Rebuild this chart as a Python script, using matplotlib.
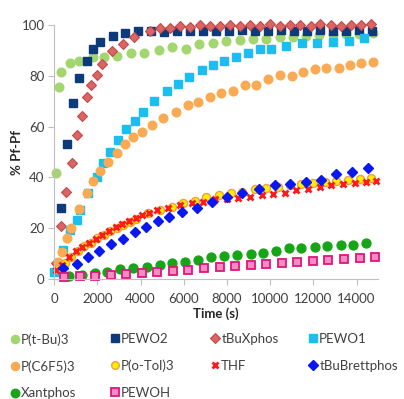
import matplotlib
matplotlib.use("Agg")
import matplotlib.pyplot as plt

plt.rcParams['font.family'] = ['Lato', 'DejaVu Sans']

# ---------------- data ----------------
t_ptbu3 = [92, 245, 323, 739, 1170, 1785, 2310, 2925, 3557, 4170, 4835, 5465, 6083, 6700,
           7360, 7975, 8590, 9205, 9820, 10435, 11050, 11665, 12280, 12895, 13510, 14125, 14740]
y_ptbu3 = [41.6, 75.6, 81.4, 84.9, 85.8, 87.3, 87.5, 87.8, 89.2, 89.2, 90.2, 91.3, 90.5, 92.4,
           93.0, 93.8, 94.1, 94.4, 94.6, 95.2, 95.5, 95.8, 96.0, 96.3, 96.5, 96.6, 96.8]

t_pewo2 = [310, 586, 893, 1170, 1510, 1787, 2125, 2710, 3280, 3895, 4500, 5100, 5700, 6300,
           6880, 7500, 8100, 8700, 9300, 9900, 10500, 11100, 11700, 12300, 12900, 13500, 14100, 14720]
y_pewo2 = [28.1, 53.1, 69.2, 79.3, 86.0, 90.4, 93.4, 95.7, 97.0, 97.6, 97.5, 97.3, 97.8, 97.5,
           97.8, 97.5, 97.8, 98.0, 97.6, 97.8, 98.0, 97.6, 97.8, 98.0, 97.6, 97.8, 98.0, 97.8]

t_tbuxphos = [92, 308, 555, 815, 1048, 1278, 1510, 1710, 1970, 2218, 2665, 3200, 3700, 4435,
              4900, 5360, 5820, 6280, 6745, 7210, 7680, 8150, 8610, 9080, 9540, 10010, 10470,
              10940, 11400, 11870, 12330, 12800, 13260, 13730, 14190, 14650]
y_tbuxphos = [6.2, 20.9, 34.1, 45.8, 56.7, 64.2, 71.5, 76.4, 80.3, 84.5, 89.8, 92.4, 95.4, 97.8,
              98.7, 98.9, 99.6, 99.4, 100.0, 99.6, 99.8, 100.2, 99.5, 100.0, 99.8, 100.3,
              99.7, 100.0, 100.2, 99.8, 100.3, 100.0, 99.8, 100.2, 100.0, 100.3]

t_pewo1 = [14, 430, 740, 1050, 1200, 1585, 1970, 2280, 2590, 2970, 3326, 3740, 4125, 4634,
           5206, 5743, 6250, 6823, 7360, 7854, 8408, 8977, 9517, 10057, 10750, 11490, 12183,
           12905, 13643, 14368]
y_pewo1 = [2.9, 11.4, 19.3, 23.2, 27.2, 33.7, 40.3, 45.5, 50.1, 54.7, 58.9, 62.3, 65.6, 70.2,
           74.1, 77.0, 79.4, 82.3, 84.3, 85.8, 87.5, 88.9, 90.4, 90.4, 91.7, 92.8, 93.0,
           93.4, 93.8, 94.8]

t_pc6f5 = [185, 355, 586, 770, 1170, 1510, 1817, 2125, 2510, 2895, 3280, 3665, 4050, 4510,
           5050, 5636, 6175, 6670, 7207, 7745, 8283, 8824, 9364, 9905, 10440, 11028, 11517,
           12058, 12598, 13183, 13706, 14215, 14750]
y_pc6f5 = [6.8, 10.7, 16.0, 20.0, 27.4, 33.7, 38.7, 42.6, 46.2, 49.5, 53.1, 56.0, 58.0, 60.6,
           63.5, 65.9, 68.5, 69.8, 71.8, 73.1, 74.1, 76.4, 76.4, 78.6, 80.3, 79.9, 81.6,
           82.6, 83.0, 83.0, 84.3, 84.9, 85.6]

t_potol3 = [200, 500, 800, 1100, 1400, 1700, 2000, 2300, 2600, 2900, 3200, 3500, 3800, 4358,
            4897, 5437, 5976, 6514, 7053, 7637, 8180, 8720, 9286, 9825, 10360, 10900, 11440,
            11980, 12520, 13060, 13600, 14137, 14677]
y_potol3 = [4.0, 6.2, 8.7, 10.8, 12.8, 14.3, 16.0, 17.3, 18.8, 20.0, 21.3, 22.6, 23.8, 25.9,
            27.2, 28.5, 29.8, 30.8, 32.4, 33.1, 33.8, 34.4, 35.3, 35.9, 36.3, 36.9, 37.3,
            37.6, 38.0, 38.4, 39.0, 39.2, 39.6]

t_thf = [100, 370, 680, 990, 1300, 1610, 1920, 2230, 2540, 2850, 3160, 3470, 3780, 4090, 4400,
         4740, 5280, 5820, 6360, 6900, 7440, 7980, 8520, 9060, 9600, 10140, 10680, 11220,
         11760, 12300, 12840, 13380, 13920, 14460, 14910]
y_thf = [3.5, 5.5, 8.5, 10.8, 12.5, 14.3, 15.8, 17.4, 18.9, 20.3, 21.5, 22.9, 24.0, 25.0, 26.0,
         27.0, 28.0, 29.0, 30.0, 30.5, 31.3, 31.6, 31.8, 32.3, 33.0, 33.6, 34.0, 35.0,
         35.4, 36.3, 37.0, 37.3, 37.9, 38.3, 38.4]

t_tbubrett = [430, 1048, 1586, 2094, 2633, 3172, 3742, 4250, 4790, 5329, 5898, 6591, 7330,
              8006, 8718, 9486, 10210, 10903, 11642, 12367, 13060, 13800, 14520]
y_tbubrett = [4.2, 5.9, 8.8, 11.1, 13.7, 15.7, 18.6, 20.6, 22.8, 24.5, 26.3, 28.1, 30.4,
              32.2, 34.0, 35.3, 37.0, 37.4, 38.3, 39.0, 41.2, 42.0, 43.7]

t_xantphos = [700, 1278, 1894, 2433, 3050, 3665, 4280, 4897, 5437, 6050, 6670, 7254, 7870,
              8485, 9100, 9670, 10256, 10870, 11440, 12058, 12645, 13260, 13830, 14450]
y_xantphos = [1.0, 1.6, 2.5, 2.9, 3.8, 4.2, 4.8, 5.5, 6.2, 6.8, 7.5, 8.5, 9.1,
              9.4, 9.7, 10.4, 11.0, 12.1, 12.1, 12.7, 13.0, 13.3, 13.5, 14.0]

t_pewoh = [460, 1180, 1900, 2620, 3340, 4060, 4780, 5500, 6220, 6940, 7660, 8380, 9100, 9820,
           10540, 11260, 11980, 12700, 13420, 14140, 14860]
y_pewoh = [0.7, 1.0, 1.3, 1.6, 2.0, 2.3, 2.7, 3.1, 3.5, 4.2, 4.7, 5.2, 5.5, 5.9,
           6.4, 6.7, 7.1, 7.5, 8.0, 8.3, 8.5]

x_ticks = [0, 2000, 4000, 6000, 8000, 10000, 12000, 14000]
y_ticks = [0, 20, 40, 60, 80, 100]

# ---------------- styles ----------------
series = [
    ("P(t-Bu)3", t_ptbu3, y_ptbu3, dict(marker='o', ms=6.2, mfc='#A3D66E', mec='#A3D66E')),
    ("PEWO2", t_pewo2, y_pewo2, dict(marker='s', ms=5.6, mfc='#0C3A7A', mec='#0C3A7A')),
    ("tBuXphos", t_tbuxphos, y_tbuxphos, dict(marker='D', ms=5.0, mfc='#DB6464', mec='#C04B4B', mew=0.8)),
    ("PEWO1", t_pewo1, y_pewo1, dict(marker='s', ms=5.8, mfc='#1BBFEF', mec='#1BBFEF')),
    ("P(C6F5)3", t_pc6f5, y_pc6f5, dict(marker='o', ms=6.2, mfc='#F9AA52', mec='#F9AA52')),
    ("P(o-Tol)3", t_potol3, y_potol3, dict(marker='o', ms=5.8, mfc='#FFEE00', mec='#F0A040', mew=1.0)),
    ("THF", t_thf, y_thf, dict(marker='x', ms=5.0, mec='#FF1A1A', mew=2.0)),
    ("tBuBrettphos", t_tbubrett, y_tbubrett, dict(marker='D', ms=5.2, mfc='#0A18F0', mec='#0A18F0')),
    ("Xantphos", t_xantphos, y_xantphos, dict(marker='o', ms=6.4, mfc='#16A516', mec='#16A516')),
    ("PEWOH", t_pewoh, y_pewoh, dict(marker='s', ms=5.4, mfc='#F78CC3', mec='#E0157E', mew=1.3)),
]

fig = plt.figure(figsize=(4.04, 3.99), dpi=100)
ax = fig.add_axes([0.134, 0.301, 0.802, 0.636])

handles = {}
for name, t, y, st in series:
    h, = ax.plot(t, y, linestyle='none', label=name, clip_on=False, **st)
    handles[name] = h

ax.set_xlim(0, 15000)
ax.set_ylim(0, 100)
ax.set_xticks(x_ticks)
ax.set_yticks(y_ticks)
ax.tick_params(axis='both', labelsize=9.5, colors='#404040', length=4, width=0.8)
ax.tick_params(axis='x', pad=6)
ax.tick_params(axis='y', pad=3)
ax.tick_params(axis='both', color='#BFBFBF')
for s in ['top', 'right']:
    ax.spines[s].set_visible(False)
for s in ['left', 'bottom']:
    ax.spines[s].set_color('#BFBFBF')
    ax.spines[s].set_linewidth(0.8)

ax.set_xlabel("Time (s)", fontsize=9.5, fontweight='bold', color='#262626', labelpad=2)
ax.set_ylabel("% Pf-Pf", fontsize=9.5, fontweight='bold', color='#262626', labelpad=-1)

# legend: four columns placed at fixed positions, rows as in the reference
columns = [["P(t-Bu)3", "P(C6F5)3", "Xantphos"],
           ["PEWO2", "P(o-Tol)3", "PEWOH"],
           ["tBuXphos", "THF"],
           ["PEWO1", "tBuBrettphos"]]
col_x = [10, 110, 210, 308]
for cx, names in zip(col_x, columns):
    leg = fig.legend([handles[n] for n in names], names,
                     loc='upper left', bbox_to_anchor=(cx / 404, 1 - 333 / 399),
                     frameon=False, fontsize=9.5, handlelength=0.7, handletextpad=0.15,
                     labelspacing=1.1, borderpad=0, borderaxespad=0, markerscale=0.95)
    for txt in leg.get_texts():
        txt.set_color('#404040')

fig.savefig("out.png", dpi=100)
